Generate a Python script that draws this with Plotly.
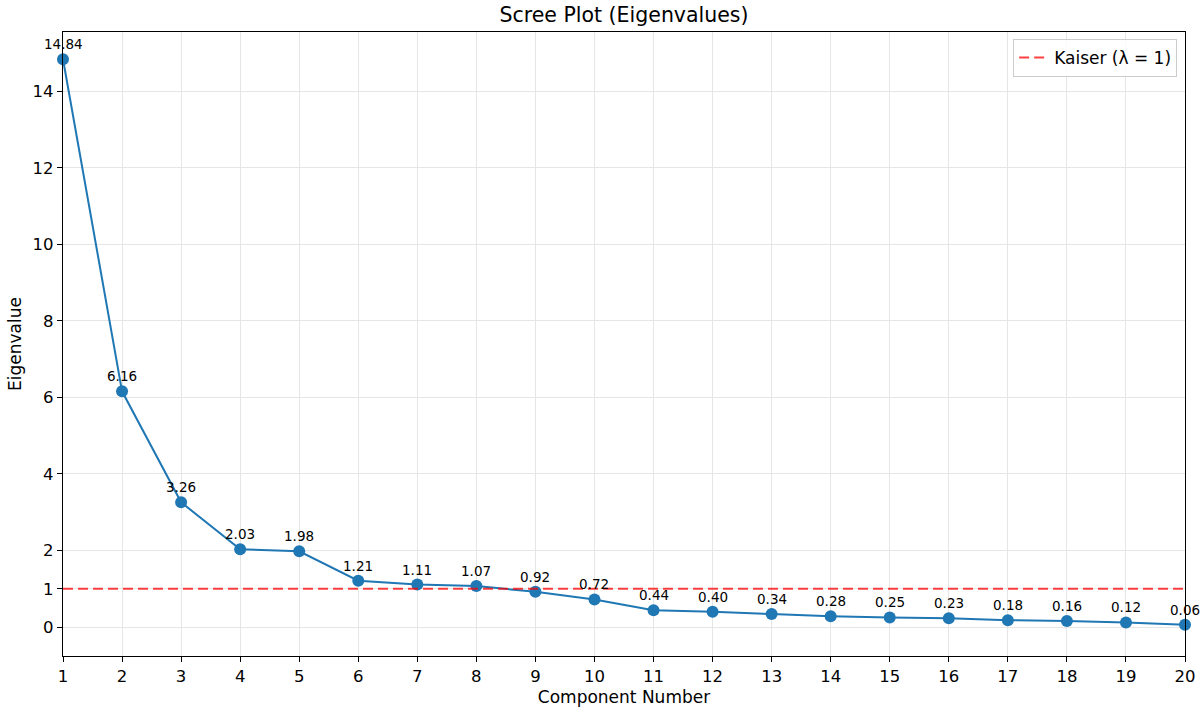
import plotly.graph_objects as go

components = list(range(1, 21))
eigenvalues = [14.84, 6.16, 3.26, 2.03, 1.98, 1.21, 1.11, 1.07, 0.92, 0.72,
               0.44, 0.40, 0.34, 0.28, 0.25, 0.23, 0.18, 0.16, 0.12, 0.06]
y_ticks = [0, 1, 2, 4, 6, 8, 10, 12, 14]
kaiser_value = 1
kaiser_label = "Kaiser (λ = 1)"

FONT = "DejaVu Sans"
BLUE = "#1f77b4"

fig = go.Figure()

fig.add_trace(go.Scatter(
    x=components, y=eigenvalues, mode="lines+markers",
    line=dict(color=BLUE, width=2),
    marker=dict(color=BLUE, size=12),
    showlegend=False, cliponaxis=False,
))

fig.add_trace(go.Scatter(
    x=[components[0], components[-1]], y=[kaiser_value, kaiser_value],
    mode="lines", name=kaiser_label,
    line=dict(color="rgba(255,0,0,0.75)", width=2, dash="10px,5px"),
))

for xv, yv in zip(components, eigenvalues):
    fig.add_annotation(x=xv, y=yv, text=f"{yv:.2f}", showarrow=False,
                       yshift=15, font=dict(family=FONT, size=13.5, color="#000"))

axis_common = dict(
    showline=True, linecolor="black", linewidth=1.2, mirror=True,
    ticks="outside", ticklen=5, tickwidth=1, tickcolor="black",
    showgrid=True, gridcolor="#e6e6e6", gridwidth=1, zeroline=False,
    tickfont=dict(family=FONT, size=16.5, color="#000"),
    automargin=False,
)

fig.update_layout(
    width=1202, height=711, autosize=False,
    margin=dict(l=63, r=17, t=32, b=55),
    paper_bgcolor="white", plot_bgcolor="white",
    font=dict(family=FONT, color="#000"),
    title=dict(text="Scree Plot (Eigenvalues)", x=0.5, xref="paper",
               y=1 - 15 / 711, yref="container", yanchor="middle", xanchor="center",
               font=dict(family=FONT, size=20.5, color="#000")),
    xaxis=dict(range=[1, 20], tickvals=components, **axis_common,
               title=dict(text="Component Number", standoff=6,
                          font=dict(family=FONT, size=17, color="#000"))),
    yaxis=dict(range=[-0.757, 15.55], tickvals=y_ticks, **axis_common,
               title=dict(text="Eigenvalue", standoff=6,
                          font=dict(family=FONT, size=17, color="#000"))),
    legend=dict(x=0.993, y=0.989, xanchor="right", yanchor="top",
                bgcolor="rgba(255,255,255,0.8)", bordercolor="#cccccc", borderwidth=1,
                font=dict(family=FONT, size=17, color="#000")),
)

fig.write_html("out.html")
